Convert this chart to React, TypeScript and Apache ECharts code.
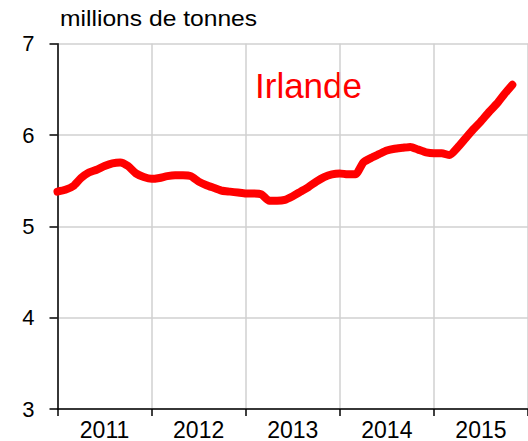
import React, { useEffect, useRef } from "react";
import * as echarts from "echarts";

// Monthly values from Jan 2011 (index 0), millions de tonnes
const values: number[] = [
  5.38, 5.40, 5.44, 5.53, 5.59, 5.62, 5.66, 5.69, 5.70, 5.66, 5.58, 5.54,
  5.52, 5.53, 5.55, 5.56, 5.56, 5.55, 5.49, 5.45, 5.42, 5.39, 5.38, 5.37,
  5.36, 5.36, 5.35, 5.28, 5.28, 5.29, 5.33, 5.38, 5.43, 5.49, 5.54, 5.57,
  5.58, 5.57, 5.57, 5.70, 5.75, 5.79, 5.83, 5.85, 5.86, 5.87, 5.84, 5.81,
  5.80, 5.80, 5.78, 5.86, 5.96, 6.06, 6.15, 6.25, 6.34, 6.45, 6.55,
];
const years: string[] = ["2011", "2012", "2013", "2014", "2015"];
const yTicks: number[] = [3, 4, 5, 6, 7];
const unitLabel = "millions de tonnes";
const seriesName = "Irlande";

export default function App() {
  const ref = useRef<HTMLDivElement>(null);
  useEffect(() => {
    if (!ref.current) return;
    const chart = echarts.init(ref.current, undefined, { renderer: "svg" });
    const data = values.map((v, i) => [i, v]);
    const font = "Liberation Sans";
    chart.setOption({
      animation: false,
      grid: { left: 57.5, right: 0, top: 43.7, bottom: 29 },
      xAxis: [
        {
          type: "value",
          min: 0,
          max: years.length * 12,
          interval: 12,
          position: "bottom",
          axisLine: { show: true, lineStyle: { color: "#000", width: 1.5 } },
          axisTick: { show: true, length: 7, lineStyle: { color: "#000", width: 1.5 } },
          axisLabel: { show: false },
          splitLine: { show: true, lineStyle: { color: "#d0d0d0", width: 1.5 } },
        },
        {
          type: "value",
          min: 0,
          max: years.length * 12,
          interval: 6,
          position: "bottom",
          axisLine: { show: false },
          axisTick: { show: false },
          splitLine: { show: false },
          axisLabel: {
            show: true,
            margin: 9,
            fontFamily: font,
            fontSize: 23,
            color: "#000",
            formatter: (v: number) => {
              if (v % 12 === 6) return years[Math.floor(v / 12)] ?? "";
              return "";
            },
          },
        },
      ],
      yAxis: {
        type: "value",
        min: yTicks[0],
        max: yTicks[yTicks.length - 1],
        interval: 1,
        axisLine: { show: true, lineStyle: { color: "#000", width: 1.5 } },
        axisTick: { show: true, length: 8, lineStyle: { color: "#000", width: 1.5 } },
        axisLabel: { margin: 23, fontFamily: font, fontSize: 22, color: "#000" },
        splitLine: { show: true, lineStyle: { color: "#d0d0d0", width: 1.5 } },
      },
      graphic: [
        {
          type: "text",
          x: 60,
          y: 18,
          scaleX: 1.12,
          style: {
            text: unitLabel,
            font: `22px "${font}"`,
            fill: "#000",
            verticalAlign: "middle",
          },
        },
        {
          type: "text",
          x: 255,
          y: 85,
          style: {
            text: seriesName,
            font: `35px "${font}"`,
            fill: "#ff0000",
            verticalAlign: "middle",
          },
        },
      ],
      series: [
        {
          type: "line",
          name: seriesName,
          xAxisIndex: 0,
          data,
          showSymbol: false,
          smooth: 0.2,
          lineStyle: { color: "#ff0000", width: 8, cap: "round", join: "round" },
        },
      ],
    });
    return () => chart.dispose();
  }, []);
  return (
    <div style={{ position: "fixed", left: 0, top: 0, width: 528, height: 441, overflow: "hidden", background: "#fff" }}>
      <div ref={ref} style={{ position: "absolute", left: 0, top: 0, width: 531, height: 441 }} />
    </div>
  );
}
